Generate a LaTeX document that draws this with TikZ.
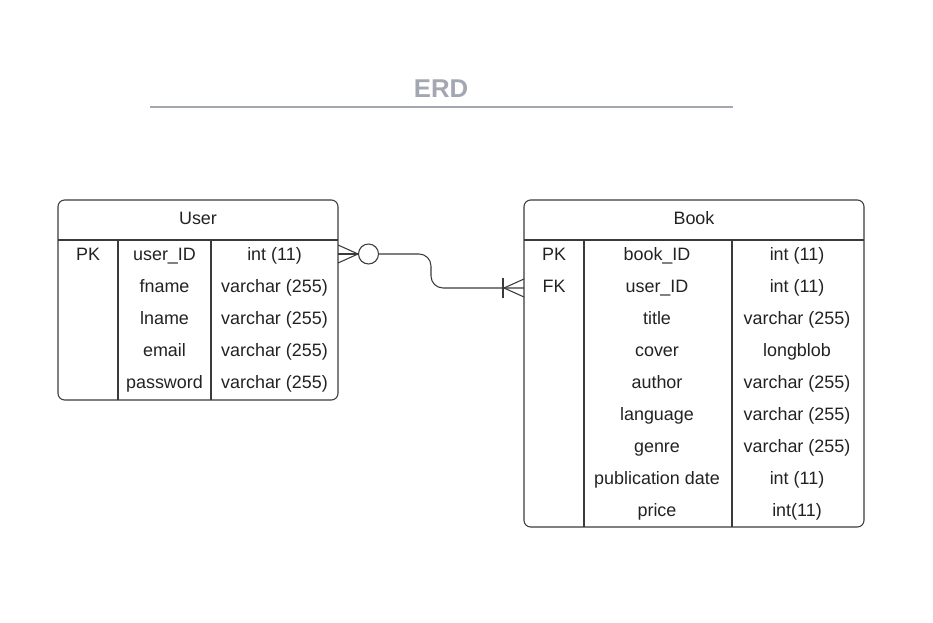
\documentclass[tikz,border=0pt]{standalone}
\usepackage{fontspec}
\setmainfont{Liberation Sans}
\definecolor{ln}{HTML}{3A3A3A}
\definecolor{tx}{HTML}{222222}
\definecolor{ttl}{HTML}{A2A7B2}
\begin{document}
\begin{tikzpicture}[x=0.75pt,y=-0.75pt,
  tbl/.style={draw=ln, line width=0.8pt, rounded corners=5pt, inner sep=0pt, outer sep=0pt},
  cell/.style={text=tx, font=\fontsize{13.45}{16}\selectfont, inner sep=0pt, anchor=base},
  rulel/.style={draw=ln, line width=0.8pt},
  conn/.style={draw=ln, line width=0.8pt},
]
\useasboundingbox (0,0) rectangle (933,623);
% title
\node[font=\bfseries\fontsize{19.3}{22}\selectfont, text=ttl, inner sep=0pt, anchor=base] (title) at (441,97.5) {ERD};
\draw[ttl, line width=1.5pt] (150,107.5) -- (733,107.5);

% User table
\node[tbl, minimum width=210pt, minimum height=150pt] (user) at (198,300) {};
\draw[rulel] (58,240) -- (338,240);
\draw[rulel] (118,240) -- (118,400);
\draw[rulel] (211,240) -- (211,400);
\node[cell] (uh) at (198,225) {User};
\node[cell] (u1a) at (88,261) {PK};
\node[cell] (u1b) at (164.5,261) {user\_ID};
\node[cell] (u1c) at (274.5,261) {int (11)};
\node[cell] (u2b) at (164.5,293) {fname};
\node[cell] (u2c) at (274.5,293) {varchar (255)};
\node[cell] (u3b) at (164.5,325) {lname};
\node[cell] (u3c) at (274.5,325) {varchar (255)};
\node[cell] (u4b) at (164.5,357) {email};
\node[cell] (u4c) at (274.5,357) {varchar (255)};
\node[cell] (u5b) at (164.5,389) {password};
\node[cell] (u5c) at (274.5,389) {varchar (255)};

% Book table
\node[tbl, minimum width=255pt, minimum height=245.25pt] (book) at (694,363.5) {};
\draw[rulel] (524,240) -- (864,240);
\draw[rulel] (584,240) -- (584,527);
\draw[rulel] (732,240) -- (732,527);
\node[cell] (bh) at (694,225) {Book};
\node[cell] (b1a) at (554,261) {PK};
\node[cell] (b1b) at (657,261) {book\_ID};
\node[cell] (b1c) at (797,261) {int (11)};
\node[cell] (b2a) at (554,293) {FK};
\node[cell] (b2b) at (657,293) {user\_ID};
\node[cell] (b2c) at (797,293) {int (11)};
\node[cell] (b3b) at (657,325) {title};
\node[cell] (b3c) at (797,325) {varchar (255)};
\node[cell] (b4b) at (657,357) {cover};
\node[cell] (b4c) at (797,357) {longblob};
\node[cell] (b5b) at (657,389) {author};
\node[cell] (b5c) at (797,389) {varchar (255)};
\node[cell] (b6b) at (657,421) {language};
\node[cell] (b6c) at (797,421) {varchar (255)};
\node[cell] (b7b) at (657,453) {genre};
\node[cell] (b7c) at (797,453) {varchar (255)};
\node[cell] (b8b) at (657,485) {publication date};
\node[cell] (b8c) at (797,485) {int (11)};
\node[cell] (b9b) at (657,517) {price};
\node[cell] (b9c) at (797,517) {int(11)};

% connector
\coordinate (ua) at (338,254);
\coordinate (uf) at (358,254);
\coordinate (ba) at (524,288);
\coordinate (bf) at (504,288);
\node[draw=ln, line width=0.8pt, circle, minimum size=15pt, inner sep=0pt] (circ) at (368.5,254) {};
% crow's foot at user
\draw[conn] (338,245) -- (uf) -- (338,263);
\draw[conn] (ua) -- (circ.west);
% main line
\draw[conn, rounded corners=9pt] (circ.east) -- (431,254) -- (431,288) -- (ba);
% crow's foot and bar at book
\draw[conn] (524,279) -- (bf) -- (524,297);
\draw[conn] (503,278) -- (503,298);
\end{tikzpicture}
\end{document}
